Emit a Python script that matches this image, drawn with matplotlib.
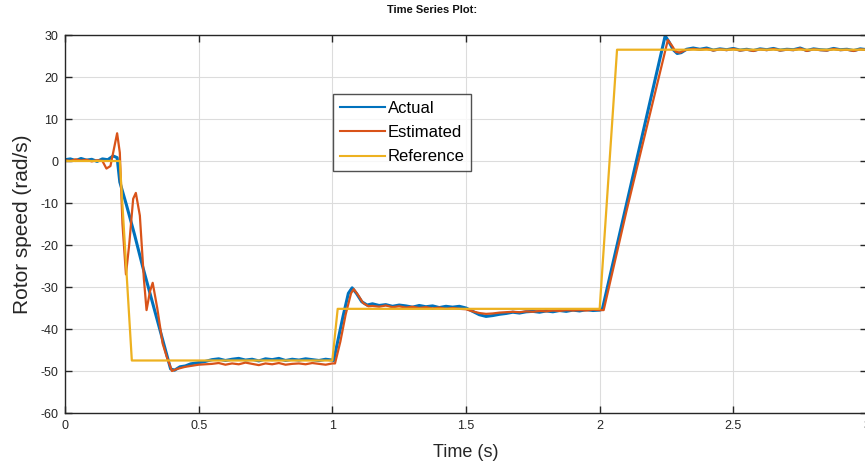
import matplotlib
matplotlib.use("Agg")
import matplotlib.pyplot as plt

plt.rcParams['font.family'] = ['Liberation Sans', 'DejaVu Sans']
plt.rcParams['axes.unicode_minus'] = False

# ---- data ----
t_act = [0, 0.02, 0.04, 0.06, 0.08, 0.10, 0.12, 0.14, 0.16, 0.18,
         0.195, 0.205, 0.23, 0.26, 0.29, 0.32, 0.35, 0.38, 0.395, 0.41,
         0.43, 0.45, 0.47, 0.5, 0.52, 0.55,
         0.575, 0.6, 0.625, 0.65, 0.675, 0.7, 0.725, 0.75, 0.775, 0.8,
         0.825, 0.85, 0.875, 0.9, 0.925, 0.95, 0.975, 1.0,
         1.005, 1.02, 1.04, 1.06, 1.074, 1.09, 1.11, 1.13,
         1.15, 1.175, 1.2, 1.225, 1.25, 1.275, 1.3, 1.325, 1.35, 1.375,
         1.4, 1.425, 1.45, 1.475, 1.5,
         1.525, 1.55, 1.575, 1.6, 1.625, 1.65,
         1.675, 1.7, 1.725, 1.75, 1.775, 1.8, 1.825, 1.85, 1.875, 1.9,
         1.925, 1.95, 1.975, 2.0,
         2.01, 2.245, 2.26, 2.275, 2.29, 2.305, 2.325, 2.35,
         2.375, 2.4, 2.425, 2.45, 2.475, 2.5, 2.525, 2.55, 2.575, 2.6,
         2.625, 2.65, 2.675, 2.7, 2.725, 2.75, 2.775, 2.8, 2.825, 2.85,
         2.875, 2.9, 2.925, 2.95, 2.975, 3.0]
v_act = [0.3, 0.5, 0.1, 0.6, 0.2, 0.4, -0.1, 0.5, 0.3, 1.2,
         0.8, -5.0, -10.5, -17.5, -25.0, -32.0, -39.0, -46.0, -49.5, -49.8,
         -49.0, -48.8, -48.3, -48.0, -47.8, -47.3,
         -47.1, -47.5, -47.2, -47.0, -47.4, -47.2, -47.6, -47.1, -47.3, -47.0,
         -47.5, -47.2, -47.4, -47.1, -47.3, -47.5, -47.2, -47.4,
         -47.5, -43.0, -37.0, -31.5, -30.2, -31.5, -33.5, -34.3,
         -34.0, -34.4, -34.2, -34.6, -34.3, -34.5, -34.8, -34.4, -34.7, -34.5,
         -34.9, -34.6, -34.8, -34.6, -35.0,
         -35.8, -36.6, -37.0, -36.8, -36.5, -36.3,
         -36.0, -36.2, -35.9, -35.8, -36.0, -35.7, -35.9, -35.6, -35.8, -35.5,
         -35.7, -35.4, -35.6, -35.5,
         -35.3, 29.8, 28.3, 26.5, 25.6, 25.8, 26.6, 26.9,
         26.6, 26.9, 26.4, 26.7, 26.5, 26.8, 26.4, 26.6, 26.3, 26.7,
         26.5, 26.8, 26.4, 26.6, 26.5, 26.9, 26.3, 26.7, 26.5, 26.4,
         26.8, 26.5, 26.6, 26.3, 26.7, 26.5]

t_est = [0, 0.02, 0.04, 0.06, 0.08, 0.10, 0.12, 0.14,
         0.155, 0.17, 0.185, 0.195, 0.205, 0.215, 0.228, 0.24, 0.255, 0.265,
         0.28, 0.295, 0.305, 0.318, 0.328, 0.345, 0.365, 0.38, 0.4, 0.42,
         0.45, 0.5, 0.55,
         0.575, 0.6, 0.625, 0.65, 0.675, 0.7, 0.725, 0.75, 0.775, 0.8,
         0.825, 0.85, 0.875, 0.9, 0.925, 0.95, 0.975, 1.0,
         1.01, 1.03, 1.05, 1.07, 1.08, 1.095, 1.115, 1.135,
         1.15, 1.175, 1.2, 1.225, 1.25, 1.275, 1.3, 1.325, 1.35, 1.375,
         1.4, 1.425, 1.45, 1.475, 1.5,
         1.525, 1.55, 1.575, 1.6, 1.625, 1.65,
         1.675, 1.7, 1.725, 1.75, 1.775, 1.8, 1.825, 1.85, 1.875, 1.9,
         1.925, 1.95, 1.975, 2.0,
         2.015, 2.1, 2.255, 2.27, 2.285, 2.3, 2.32, 2.35,
         2.375, 2.4, 2.425, 2.45, 2.475, 2.5, 2.525, 2.55, 2.575, 2.6,
         2.625, 2.65, 2.675, 2.7, 2.725, 2.75, 2.775, 2.8, 2.825, 2.85,
         2.875, 2.9, 2.925, 2.95, 2.975, 3.0]
v_est = [0.2, 0.0, 0.4, 0.1, 0.3, -0.1, 0.2, 0.0,
         -1.8, -1.2, 3.5, 6.6, 2.0, -15.0, -27.0, -20.0, -9.0, -7.6,
         -13.0, -28.0, -35.5, -31.0, -29.0, -35.0, -43.4, -46.5, -50.0, -49.5,
         -49.0, -48.5, -48.3,
         -48.1, -48.5, -48.2, -48.4, -48.0, -48.3, -48.6, -48.2, -48.4, -48.1,
         -48.5, -48.3, -48.2, -48.4, -48.1, -48.3, -48.5, -48.2,
         -48.2, -43.0, -36.5, -31.5, -30.5, -31.8, -33.8, -34.6,
         -34.5, -34.7, -34.4, -34.8, -34.6, -34.9, -34.7, -35.0, -34.8, -35.1,
         -34.9, -35.2, -35.0, -35.2, -35.3,
         -35.8, -36.2, -36.4, -36.3, -36.1, -36.0,
         -35.9, -36.0, -35.8, -35.9, -35.7, -35.8, -35.6, -35.7, -35.5, -35.6,
         -35.5, -35.6, -35.4, -35.5,
         -35.5, -12.0, 28.8, 27.5, 26.0, 25.8, 26.4, 26.7,
         26.5, 26.7, 26.3, 26.6, 26.4, 26.7, 26.3, 26.5, 26.2, 26.6,
         26.4, 26.7, 26.3, 26.5, 26.4, 26.8, 26.2, 26.6, 26.4, 26.3,
         26.7, 26.4, 26.5, 26.2, 26.6, 26.4]

t_ref = [0, 0.205, 0.25, 1.0, 1.02, 2.0, 2.065, 3.0]
v_ref = [0, 0, -47.5, -47.5, -35.2, -35.2, 26.5, 26.5]

x_ticks = [0, 0.5, 1, 1.5, 2, 2.5, 3]
x_ticklabels = ['0', '0.5', '1', '1.5', '2', '2.5', '3']
y_ticks = [-60, -50, -40, -30, -20, -10, 0, 10, 20, 30]
series_labels = ['Actual', 'Estimated', 'Reference']

# ---- figure ----
fig = plt.figure(figsize=(8.65, 4.70), dpi=100)
ax = fig.add_axes([65/865, 57/470, 802/865, 378/470])

ax.plot(t_act, v_act, color='#0072BD', lw=2.2, label=series_labels[0])
ax.plot(t_est, v_est, color='#D95319', lw=1.6, label=series_labels[1])
ax.plot(t_ref, v_ref, color='#EDB120', lw=1.6, label=series_labels[2])

ax.set_xlim(0, 3)
ax.set_ylim(-60, 30)
ax.set_xticks(x_ticks)
ax.set_xticklabels(x_ticklabels)
ax.set_yticks(y_ticks)
ax.grid(True, color='#dcdcdc', lw=0.8)
ax.set_axisbelow(True)
ax.tick_params(direction='in', top=True, right=True, length=5, width=1,
               labelsize=9, colors='#262626', pad=5)
for s in ax.spines.values():
    s.set_color('#262626')
    s.set_linewidth(1.0)

ax.set_xlabel('Time (s)', fontsize=13, color='#262626', labelpad=9)
ax.set_ylabel('Rotor speed (rad/s)', fontsize=15, color='#262626', labelpad=6)
fig.text(0.5, 1 - 10/470, 'Time Series Plot:', ha='center', va='center',
         fontsize=8, fontweight='bold', color='#111111')

leg = ax.legend(loc='upper left', bbox_to_anchor=(0.334, 0.843), fontsize=12,
                frameon=True, fancybox=False, edgecolor='#262626',
                handlelength=2.7, handletextpad=0.2, borderpad=0.4,
                labelspacing=0.55, borderaxespad=0)
leg.get_frame().set_linewidth(1.0)
for ln in leg.get_lines():
    ln.set_linewidth(1.5)

fig.savefig('out.png', dpi=100)
